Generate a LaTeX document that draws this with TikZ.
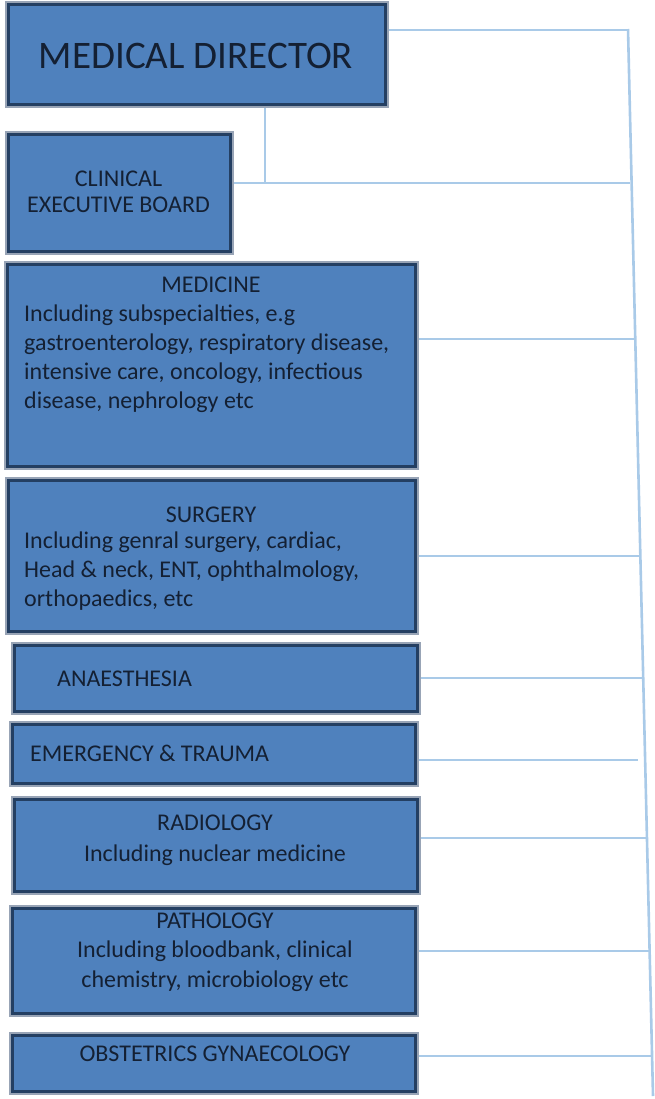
\documentclass[tikz,border=0pt]{standalone}
\usepackage{fontspec}
\setmainfont{Carlito}
\usepackage{tikz}
\usetikzlibrary{positioning,backgrounds,calc}

\definecolor{unitfill}{HTML}{4F81BD}
\definecolor{unitline}{HTML}{243F62}
\definecolor{unitshade}{HTML}{98A4B6}
\definecolor{linkblue}{HTML}{A9CAE8}
\definecolor{inktext}{HTML}{142033}

\begin{document}
\begin{tikzpicture}[x=1pt,y=-1pt,
  unit/.style={draw=unitline, line width=3.5pt, fill=unitfill, inner sep=0pt,
    preaction={draw=unitshade, line width=6.5pt}},
  head/.style={text=inktext, inner sep=0pt, font=\fontsize{24}{28.7}\selectfont},
  body/.style={head, align=left},
  link/.style={draw=linkblue, line width=2.6pt}]
\useasboundingbox (0,0) rectangle (654,1099);

% boxes
\node[unit, minimum width=377pt, minimum height=100pt] (md) at (197,54.5) {};
\node[unit, minimum width=222pt, minimum height=117pt] (ceb) at (119.5,193) {};
\node[unit, minimum width=408pt, minimum height=202pt] (med) at (211.5,365.5) {};
\node[unit, minimum width=407pt, minimum height=151pt] (sur) at (212,556) {};
\node[unit, minimum width=403pt, minimum height=66pt] (ana) at (216,678.5) {};
\node[unit, minimum width=403pt, minimum height=59pt] (emg) at (214,754) {};
\node[unit, minimum width=403pt, minimum height=92pt] (rad) at (216,845.5) {};
\node[unit, minimum width=403pt, minimum height=105pt] (pat) at (214,961) {};
\node[unit, minimum width=403pt, minimum height=56pt] (obs) at (214,1063.5) {};

% texts (base = last line of a multi-line node)
\node[head, font=\fontsize{39}{47}\selectfont, anchor=base] (mdT) at (196,69) {MEDICAL DIRECTOR};
\node[head, align=center, font=\fontsize{24}{26}\selectfont, anchor=base] (cebT) at (118.5,213) {CLINICAL\\EXECUTIVE BOARD};
\node[head, anchor=base] (medT) at (211,292) {MEDICINE};
\node[body, anchor=base west] (medB) at (24,408) {Including subspecialties, e.g\\gastroenterology, respiratory disease,\\intensive care, oncology, infectious\\disease, nephrology etc};
\node[head, anchor=base] (surT) at (211,522) {SURGERY};
\node[body, anchor=base west] (surB) at (24,606) {Including genral surgery, cardiac,\\Head \& neck, ENT, ophthalmology,\\orthopaedics, etc};
\node[head, anchor=base west] (anaT) at (57,686) {ANAESTHESIA};
\node[head, anchor=base west] (emgT) at (30,761) {EMERGENCY \& TRAUMA};
\node[head, align=center, font=\fontsize{24}{31}\selectfont, anchor=base] (radT) at (215,861) {RADIOLOGY\\Including nuclear medicine};
\node[head, align=center, font=\fontsize{24}{29.5}\selectfont, anchor=base] (patT) at (215,987) {PATHOLOGY\\Including bloodbank, clinical\\chemistry, microbiology etc};
\node[head, anchor=base] (obsT) at (215,1061) {OBSTETRICS GYNAECOLOGY};

% trunk and branches
\coordinate (ttop) at (628,29);
\coordinate (tbot) at (653,1096);
\coordinate (jMD) at (628,30);
\coordinate (jTap) at (265,183);
\coordinate (jCEB) at (630,183);
\coordinate (jMed) at (635,339);
\coordinate (jSur) at (640,556);
\coordinate (jAna) at (643.5,678);
\coordinate (jEmg) at (638,760);
\coordinate (jRad) at (648,838);
\coordinate (jPat) at (650.5,951);
\coordinate (jObs) at (653,1056);
\begin{scope}[on background layer]
\draw[link] (ttop) -- (tbot);
\draw[link] (jMD -| md.east) -- (jMD);
\draw[link] (jTap |- md.south) -- (jTap);
\draw[link] (jCEB -| ceb.east) -- (jCEB);
\draw[link] (jMed -| med.east) -- (jMed);
\draw[link] (jSur -| sur.east) -- (jSur);
\draw[link] (jAna -| ana.east) -- (jAna);
\draw[link] (jEmg -| emg.east) -- (jEmg);
\draw[link] (jRad -| rad.east) -- (jRad);
\draw[link] (jPat -| pat.east) -- (jPat);
\draw[link] (jObs -| obs.east) -- (jObs);
\end{scope}
\end{tikzpicture}
\end{document}
